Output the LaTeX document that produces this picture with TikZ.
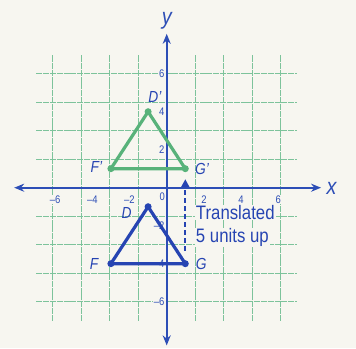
\documentclass[tikz,border=0pt]{standalone}
\usepackage{fontspec}
\setmainfont{Liberation Sans}
\newfontfamily\condfont[FakeStretch=0.86]{Liberation Sans}
\usetikzlibrary{arrows.meta}
\definecolor{bgc}{RGB}{247,246,240}
\definecolor{axblue}{RGB}{45,78,182}
\definecolor{triblue}{RGB}{38,68,178}
\definecolor{trigreen}{RGB}{88,178,122}
\definecolor{gridc}{RGB}{125,195,155}
\tikzset{
  gridline/.style={gridc, line width=0.8pt, dash pattern=on 6pt off 0.8pt},
  axisline/.style={axblue, line width=2pt, {Stealth[length=10pt,width=8pt]}-{Stealth[length=10pt,width=8pt]}},
  ticklab/.style={font=\condfont\fontsize{11}{11}\selectfont, text=axblue, fill=bgc, inner sep=0.6pt},
  vlab/.style={font=\condfont\itshape\fontsize{16}{16}\selectfont, text=triblue, inner sep=0pt},
  axlab/.style={font=\condfont\itshape\fontsize{23}{23}\selectfont, text=axblue, inner sep=0pt},
  notelab/.style={font=\condfont\fontsize{19.5}{19.5}\selectfont, text=triblue, fill=bgc, inner xsep=1.2pt, inner ysep=0.3pt, anchor=base west},
  bluetri/.style={triblue, line width=3.2pt, line join=round},
  greentri/.style={trigreen, line width=3.2pt, line join=round},
  transarrow/.style={triblue, line width=2.2pt, dash pattern=on 5pt off 3pt, -{Triangle[length=8pt,width=8pt]}}
}
\begin{document}
\begin{tikzpicture}[x=18.6pt,y=19pt]
\fill[bgc] (-8.962,-8.437) rectangle (10.177,9.879);
\useasboundingbox (-8.962,-8.437) rectangle (10.177,9.879);
% grid
\draw[gridline] (-7,-7) grid (7,7);
% axes
\coordinate (xl) at (-8.2,0);
\coordinate (xr) at (8.3,0);
\coordinate (yb) at (0,-8.3);
\coordinate (yt) at (0,8.1);
\draw[axisline] (xl) -- (xr);
\draw[axisline] (yb) -- (yt);
\node[axlab] (xlab) at (8.87,-0.05) {x};
\node[axlab] (ylab) at (0,8.8) {y};
% tick labels
\foreach \v/\t in {-6/–6,-4/–4,-2/–2,2/2,4/4,6/6}{
  \node[ticklab] (tx\v) at (\v,-0.62) {\t};
  \node[ticklab, anchor=east] (ty\v) at (-0.08,\v) {\t};
}
\node[ticklab] (t0) at (-0.24,-0.45) {0};
% points
\coordinate (D) at (-1,-1);
\coordinate (F) at (-3,-4);
\coordinate (G) at (1,-4);
\coordinate (D') at (-1,4);
\coordinate (F') at (-3,1);
\coordinate (G') at (1,1);
% translation note
\node[notelab] (n1) at (1.5,-1.68) {Translated};
\node[notelab] (n2) at (1.5,-2.88) {5 units up};
% translation arrow
\draw[transarrow, shorten <=13pt, shorten >=10.5pt] (G) -- (G');
% triangles
\draw[greentri] (D') -- (F') -- (G') -- cycle;
\draw[bluetri] (D) -- (F) -- (G) -- cycle;
\foreach \p in {D',F',G'} \fill[trigreen] (\p) circle (3.5pt);
\foreach \p in {D,F,G} \fill[triblue] (\p) circle (3.5pt);
% vertex labels
\node[vlab] (lD') at (-0.63,4.8) {D’};
\node[vlab] (lF') at (-3.78,1.1) {F’};
\node[vlab] (lG') at (1.9,1.0) {G’};
\node[vlab] (lD) at (-2.15,-1.35) {D};
\node[vlab] (lF) at (-3.9,-4) {F};
\node[vlab] (lG) at (1.85,-4) {G};
\end{tikzpicture}
\end{document}
